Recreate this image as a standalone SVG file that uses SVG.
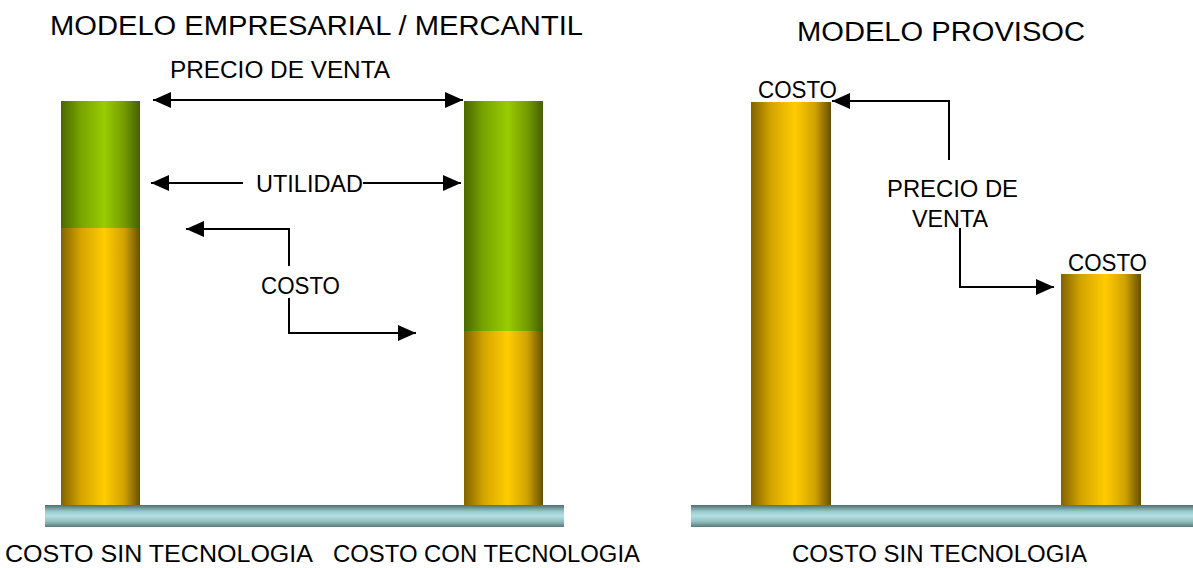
<svg xmlns="http://www.w3.org/2000/svg" width="1193" height="568" viewBox="0 0 1193 568">
<defs>
<linearGradient id="gy" x1="0" y1="0" x2="1" y2="0">
<stop offset="0" stop-color="#806400"/>
<stop offset="0.25" stop-color="#d4a400"/>
<stop offset="0.55" stop-color="#ffcc00"/>
<stop offset="0.8" stop-color="#d0a200"/>
<stop offset="1" stop-color="#665000"/>
</linearGradient>
<linearGradient id="gg" x1="0" y1="0" x2="1" y2="0">
<stop offset="0" stop-color="#4a6800"/>
<stop offset="0.25" stop-color="#78a400"/>
<stop offset="0.55" stop-color="#99cc00"/>
<stop offset="0.8" stop-color="#749c00"/>
<stop offset="1" stop-color="#455f00"/>
</linearGradient>
<linearGradient id="gb" x1="0" y1="0" x2="0" y2="1">
<stop offset="0" stop-color="#4e6e70"/>
<stop offset="0.3" stop-color="#9ccacc"/>
<stop offset="0.5" stop-color="#b4e0e2"/>
<stop offset="0.75" stop-color="#94bfc1"/>
<stop offset="1" stop-color="#587a7c"/>
</linearGradient>
<marker id="ah" markerUnits="userSpaceOnUse" markerWidth="20" markerHeight="18" refX="18" refY="8" orient="auto-start-reverse">
<path d="M0,0 L18,8 L0,16 z" fill="#000"/>
</marker>
</defs>
<style>
text{font-family:"Liberation Sans",Arial,sans-serif;fill:#000;}
.t{font-size:27px;}
.l{font-size:23px;}
.c{fill:none;stroke:#000;stroke-width:2;marker-end:url(#ah);}
</style>
<rect width="1193" height="568" fill="#fff"/>
<g id="titles">
<text class="t" x="50" y="35" textLength="533" lengthAdjust="spacingAndGlyphs">MODELO EMPRESARIAL / MERCANTIL</text>
<text class="t" x="797" y="41" textLength="288" lengthAdjust="spacingAndGlyphs">MODELO PROVISOC</text>
</g>
<g id="base-left"><rect x="45" y="505" width="519" height="22" fill="url(#gb)"/></g>
<g id="base-right"><rect x="691" y="505" width="502" height="22" fill="url(#gb)"/></g>
<g id="bar-sin">
<rect x="61" y="101" width="79" height="127" fill="url(#gg)"/>
<rect x="61" y="228" width="79" height="277" fill="url(#gy)"/>
</g>
<g id="bar-con">
<rect x="464" y="101" width="79" height="230" fill="url(#gg)"/>
<rect x="464" y="331" width="79" height="174" fill="url(#gy)"/>
</g>
<g id="bar-provisoc-1">
<rect x="751" y="102" width="80" height="403" fill="url(#gy)"/>
<text class="l" x="758" y="98" textLength="79" lengthAdjust="spacingAndGlyphs">COSTO</text>
</g>
<g id="bar-provisoc-2">
<rect x="1061" y="274" width="80" height="231" fill="url(#gy)"/>
<text class="l" x="1068" y="271" textLength="79" lengthAdjust="spacingAndGlyphs">COSTO</text>
</g>
<g id="connectors">
<line class="c" x1="153" y1="100" x2="463" y2="100" style="marker-start:url(#ah)"/>
<line class="c" x1="243" y1="183" x2="151" y2="183"/>
<line class="c" x1="363" y1="183" x2="461" y2="183"/>
<polyline class="c" points="289,266 289,229 186,229"/>
<polyline class="c" points="289,298 289,333 416,333"/>
<polyline class="c" points="949,160 949,101 832,101"/>
<polyline class="c" points="960,228 960,287 1054,287"/>
</g>
<g id="labels">
<text class="l" x="170" y="78" textLength="220" lengthAdjust="spacingAndGlyphs">PRECIO DE VENTA</text>
<text class="l" x="256" y="192" textLength="107" lengthAdjust="spacingAndGlyphs">UTILIDAD</text>
<text class="l" x="261" y="294" textLength="79" lengthAdjust="spacingAndGlyphs">COSTO</text>
<text class="l" x="887" y="197" textLength="131" lengthAdjust="spacingAndGlyphs">PRECIO DE</text>
<text class="l" x="912" y="227" textLength="76" lengthAdjust="spacingAndGlyphs">VENTA</text>
<text class="l" x="5" y="562" textLength="308" lengthAdjust="spacingAndGlyphs">COSTO SIN TECNOLOGIA</text>
<text class="l" x="333" y="562" textLength="307" lengthAdjust="spacingAndGlyphs">COSTO CON TECNOLOGIA</text>
<text class="l" x="792" y="562" textLength="295" lengthAdjust="spacingAndGlyphs">COSTO SIN TECNOLOGIA</text>
</g>
</svg>
